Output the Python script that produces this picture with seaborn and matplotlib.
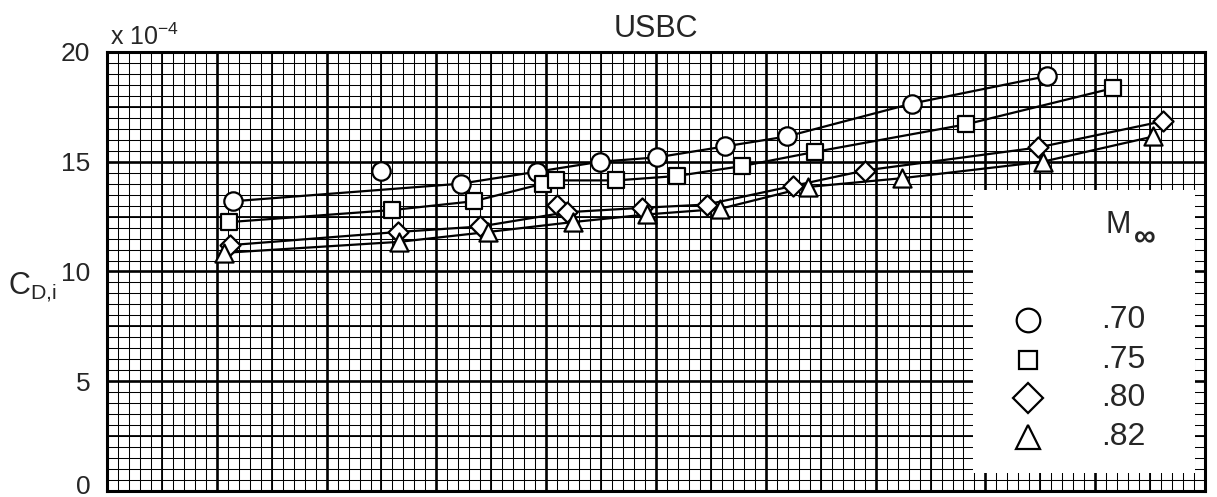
import numpy as np
import pandas as pd
import matplotlib
matplotlib.use("Agg")
import matplotlib.pyplot as plt
import matplotlib.transforms as mtransforms
import seaborn as sns
from matplotlib.patches import Rectangle

# Induced drag coefficient (x 1e-4) for four free-stream Mach numbers
mach_labels = [".70", ".75", ".80", ".82"]
marker_shapes = ["o", "s", "D", "^"]

x_m70 = [1.15, 2.50, 3.22, 3.92, 4.49, 5.01, 5.63, 6.19, 7.33, 8.56]
cd_m70 = [13.2, 14.6, 14.0, 14.55, 15.0, 15.2, 15.7, 16.15, 17.65, 18.9]
faired_m70 = [1, 0, 1, 1, 1, 1, 1, 1, 1, 1]

x_m75 = [1.11, 2.60, 3.34, 3.97, 4.09, 4.64, 5.19, 5.78, 6.45, 7.82, 9.16]
cd_m75 = [12.25, 12.8, 13.2, 14.0, 14.15, 14.15, 14.35, 14.8, 15.45, 16.7, 18.35]
faired_m75 = [1, 1, 1, 1, 1, 1, 1, 1, 1, 1, 1]

x_m80 = [1.12, 2.65, 3.40, 4.10, 4.19, 4.87, 5.46, 6.25, 6.90, 8.48, 9.62]
cd_m80 = [11.2, 11.8, 12.05, 13.05, 12.7, 12.9, 13.05, 13.9, 14.6, 15.65, 16.85]
faired_m80 = [1, 1, 1, 0, 1, 1, 1, 1, 1, 1, 1]

x_m82 = [1.07, 2.66, 3.47, 4.24, 4.92, 5.58, 6.38, 7.24, 8.52, 9.53]
cd_m82 = [10.85, 11.35, 11.8, 12.25, 12.6, 12.85, 13.85, 14.25, 15.0, 16.15]
faired_m82 = [1, 1, 1, 1, 1, 1, 1, 1, 1, 1]

y_ticks = [0, 5, 10, 15, 20]

series = [(x_m70, cd_m70, faired_m70), (x_m75, cd_m75, faired_m75),
          (x_m80, cd_m80, faired_m80), (x_m82, cd_m82, faired_m82)]
frames = []
for lab, (xs, ys, fl) in zip(mach_labels, series):
    frames.append(pd.DataFrame({"x": xs, "cd": ys, "faired": fl, "mach": lab}))
df = pd.concat(frames, ignore_index=True)

sns.set_style("white")
plt.rcParams["font.family"] = ["Liberation Sans", "DejaVu Sans"]
plt.rcParams["mathtext.fontset"] = "custom"
plt.rcParams["mathtext.rm"] = "Liberation Sans"
plt.rcParams["mathtext.it"] = "Liberation Sans"

fig = plt.figure(figsize=(12.17, 4.97), dpi=100)
ax = fig.add_axes([0.0879, 0.0121, 0.9023, 0.8833])

# graph-paper grid
ax.set_xlim(0, 10)
ax.set_ylim(0, 20)
ax.set_xticks(np.arange(0, 10.01, 1))
ax.set_xticks(np.arange(0, 10.01, 0.1), minor=True)
ax.set_yticks(y_ticks)
ax.set_yticks(np.arange(0, 20.01, 0.5), minor=True)
ax.grid(which="minor", color="black", linewidth=0.75, zorder=0)
ax.grid(which="major", color="black", linewidth=1.9, zorder=0.2)
ax.vlines(np.arange(0.5, 10, 1.0), 0, 20, color="black", linewidth=1.3, zorder=0.1)
ax.hlines([2.5, 7.5, 12.5, 17.5], 0, 10, color="black", linewidth=1.3, zorder=0.1)
ax.set_axisbelow(True)

ax.tick_params(axis="both", which="both", length=0)
ax.tick_params(axis="y", labelsize=19, pad=12)
ax.set_xticklabels([])
for sp in ax.spines.values():
    sp.set_visible(True)
    sp.set_color("black")
    sp.set_linewidth(2.2)

# faired curves
for lab in mach_labels:
    sub = df[(df["mach"] == lab) & (df["faired"] == 1)]
    sns.lineplot(data=sub, x="x", y="cd", ax=ax, color="black", linewidth=1.6,
                 sort=False, estimator=None, zorder=4, legend=False)

# data symbols
sym_sizes = {".70": 175, ".75": 125, ".80": 105, ".82": 170}
for lab, mk in zip(mach_labels, marker_shapes):
    sub = df[df["mach"] == lab]
    sns.scatterplot(data=sub, x="x", y="cd", ax=ax, marker=mk, s=sym_sizes[lab],
                    facecolor="white", edgecolor="black", linewidth=1.6,
                    zorder=5, legend=False)
ax.set_xlabel("")
ax.set_ylabel("")

# keep the lowest tick label inside the figure
lowest = ax.get_yticklabels()[0]
lowest.set_transform(lowest.get_transform() +
                     mtransforms.ScaledTranslation(0, 5 / 72, fig.dpi_scale_trans))

# key
ax.add_patch(Rectangle((0.789, 0.041), 0.202, 0.645, transform=ax.transAxes,
                       facecolor="white", edgecolor="none", zorder=3))
ax.text(0.909, 0.606, "M", transform=ax.transAxes,
        fontsize=22, ha="left", va="center", zorder=6)
ax.text(0.935, 0.575, "\u221e", transform=ax.transAxes,
        fontsize=22, ha="left", va="center", zorder=6, fontweight="bold")
key_rows = [0.3895, 0.298, 0.212, 0.123]
key_sizes = [17, 13.5, 15, 17]
for lab, mk, yy, ms in zip(mach_labels, marker_shapes, key_rows, key_sizes):
    ax.plot([0.839], [yy], marker=mk, markersize=ms, markerfacecolor="white",
            markeredgecolor="black", markeredgewidth=1.6, linestyle="none",
            transform=ax.transAxes, zorder=6, clip_on=False)
    ax.text(0.905, yy, lab, transform=ax.transAxes, fontsize=23,
            ha="left", va="center", zorder=6)

ax.set_title("USBC", fontsize=22, pad=11)
ax.text(0.003, 1.005, r"x 10$^{\mathregular{-4}}$", transform=ax.transAxes,
        fontsize=18, ha="left", va="bottom")
fig.text(8 / 1217, 1 - 287 / 497, r"$\mathregular{C_{D{,}i}}$", fontsize=22,
         ha="left", va="center")

fig.savefig("out.png", dpi=100)
